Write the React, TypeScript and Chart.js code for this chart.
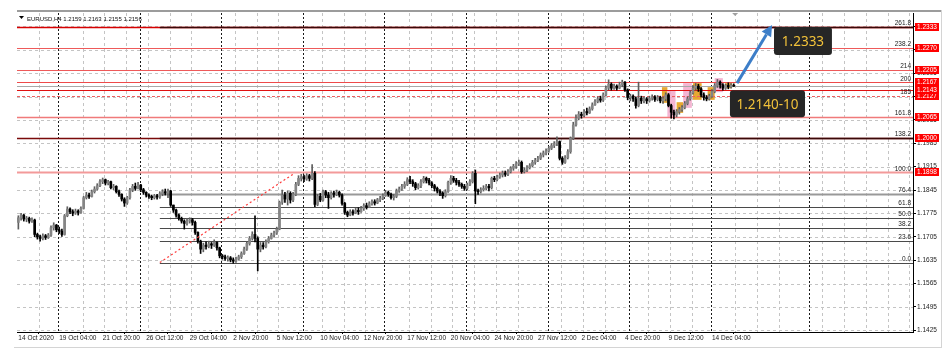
import React, { useEffect, useRef } from 'react';
import { Chart, registerables } from 'chart.js';
Chart.register(...registerables);

// ---------- data (EURUSD H4) ----------
const FIRST_OPEN = 1.1748;
const CLOSE = [
1.1762,1.1770,1.1758,1.1760,1.1752,1.1755,1.1712,1.1705,1.1700,1.1708,
1.1703,1.1710,1.1732,1.1740,1.1726,1.1722,1.1712,1.1768,1.1788,1.1780,
1.1776,1.1782,1.1778,1.1790,1.1822,1.1830,1.1826,1.1840,1.1848,1.1858,
1.1870,1.1876,1.1866,1.1870,1.1852,1.1856,1.1840,1.1832,1.1818,1.1806,
1.1822,1.1845,1.1856,1.1850,1.1860,1.1846,1.1838,1.1830,1.1826,1.1822,
1.1828,1.1824,1.1834,1.1840,1.1836,1.1842,1.1800,1.1785,1.1770,1.1760,
1.1752,1.1745,1.1752,1.1756,1.1748,1.1718,1.1692,1.1668,1.1680,1.1676,
1.1684,1.1680,1.1688,1.1672,1.1648,1.1645,1.1640,1.1642,1.1636,1.1632,
1.1638,1.1645,1.1655,1.1668,1.1685,1.1700,1.1712,1.1700,1.1668,1.1680,
1.1675,1.1690,1.1700,1.1710,1.1716,1.1728,1.1808,1.1830,1.1818,1.1835,
1.1815,1.1832,1.1862,1.1880,1.1885,1.1878,1.1888,1.1880,1.1895,1.1802,
1.1826,1.1815,1.1840,1.1830,1.1822,1.1836,1.1832,1.1838,1.1830,1.1805,
1.1778,1.1770,1.1780,1.1776,1.1784,1.1780,1.1790,1.1798,1.1794,1.1804,
1.1810,1.1806,1.1816,1.1820,1.1828,1.1838,1.1832,1.1822,1.1826,1.1842,
1.1848,1.1856,1.1862,1.1876,1.1870,1.1864,1.1852,1.1858,1.1870,1.1880,
1.1874,1.1866,1.1858,1.1850,1.1842,1.1836,1.1828,1.1840,1.1868,1.1880,
1.1874,1.1868,1.1862,1.1856,1.1850,1.1860,1.1870,1.1895,1.1842,1.1840,
1.1846,1.1850,1.1856,1.1852,1.1880,1.1876,1.1884,1.1890,1.1896,1.1892,
1.1900,1.1910,1.1916,1.1924,1.1928,1.1900,1.1904,1.1912,1.1918,1.1928,
1.1934,1.1940,1.1950,1.1956,1.1962,1.1970,1.1978,1.1984,1.1990,1.1940,
1.1928,1.1942,1.1960,1.2000,1.2040,1.2060,1.2072,1.2068,1.2080,1.2076,
1.2088,1.2100,1.2110,1.2118,1.2114,1.2130,1.2150,1.2162,1.2150,1.2156,
1.2150,1.2160,1.2168,1.2145,1.2122,1.2126,1.2118,1.2098,1.2120,1.2112,
1.2118,1.2112,1.2120,1.2124,1.2116,1.2122,1.2112,1.2118,1.2130,1.2098,
1.2078,1.2070,1.2080,1.2086,1.2092,1.2104,1.2118,1.2136,1.2150,1.2156,
1.2148,1.2130,1.2122,1.2118,1.2126,1.2140,1.2158,1.2168,1.2160,1.2150,
1.2158,1.2154,1.2159,1.2156
];
const HIGH = [
1.1768,1.1775,1.1772,1.1766,1.1764,1.1762,1.1758,1.1716,1.1710,1.1714,
1.1712,1.1715,1.1738,1.1747,1.1742,1.1734,1.1728,1.1772,1.1795,1.1792,
1.1786,1.1788,1.1786,1.1795,1.1826,1.1838,1.1836,1.1845,1.1855,1.1864,
1.1876,1.1881,1.1878,1.1874,1.1872,1.1862,1.1858,1.1845,1.1834,1.1822,
1.1826,1.1850,1.1862,1.1866,1.1868,1.1862,1.1850,1.1840,1.1834,1.1830,
1.1832,1.1832,1.1840,1.1846,1.1848,1.1848,1.1844,1.1800,1.1788,1.1774,
1.1764,1.1756,1.1760,1.1762,1.1760,1.1752,1.1720,1.1695,1.1686,1.1690,
1.1692,1.1688,1.1696,1.1690,1.1674,1.1652,1.1650,1.1648,1.1646,1.1642,
1.1644,1.1650,1.1660,1.1674,1.1690,1.1706,1.1720,1.1768,1.1705,1.1688,
1.1688,1.1696,1.1706,1.1716,1.1722,1.1734,1.1812,1.1845,1.1838,1.1842,
1.1840,1.1838,1.1868,1.1888,1.1892,1.1890,1.1894,1.1892,1.1921,1.1900,
1.1832,1.1835,1.1845,1.1844,1.1838,1.1840,1.1842,1.1845,1.1842,1.1834,
1.1808,1.1782,1.1786,1.1786,1.1790,1.1792,1.1796,1.1804,1.1806,1.1810,
1.1816,1.1816,1.1820,1.1826,1.1834,1.1844,1.1842,1.1836,1.1832,1.1848,
1.1854,1.1862,1.1870,1.1882,1.1886,1.1876,1.1868,1.1864,1.1876,1.1886,
1.1884,1.1880,1.1870,1.1862,1.1854,1.1846,1.1840,1.1846,1.1872,1.1888,
1.1886,1.1880,1.1874,1.1866,1.1862,1.1866,1.1876,1.1900,1.1905,1.1848,
1.1852,1.1858,1.1862,1.1862,1.1884,1.1886,1.1890,1.1896,1.1902,1.1902,
1.1906,1.1915,1.1922,1.1930,1.1935,1.1932,1.1912,1.1918,1.1924,1.1934,
1.1940,1.1946,1.1956,1.1962,1.1968,1.1976,1.1984,1.1990,1.2004,1.1992,
1.1945,1.1948,1.1966,1.2004,1.2048,1.2070,1.2080,1.2078,1.2086,1.2090,
1.2094,1.2106,1.2116,1.2124,1.2126,1.2136,1.2156,1.2175,1.2166,1.2162,
1.2160,1.2168,1.2174,1.2170,1.2148,1.2132,1.2130,1.2124,1.2168,1.2126,
1.2124,1.2122,1.2126,1.2130,1.2128,1.2128,1.2126,1.2124,1.2136,1.2134,
1.2102,1.2084,1.2086,1.2092,1.2098,1.2110,1.2124,1.2142,1.2158,1.2164,
1.2162,1.2152,1.2136,1.2128,1.2132,1.2146,1.2164,1.2176,1.2172,1.2164,
1.2162,1.2166,1.2164,1.2163
];
const LOW = [
1.1728,1.1755,1.1752,1.1750,1.1746,1.1748,1.1705,1.1698,1.1692,1.1696,
1.1697,1.1700,1.1706,1.1725,1.1720,1.1715,1.1706,1.1710,1.1765,1.1774,
1.1768,1.1772,1.1770,1.1775,1.1788,1.1818,1.1820,1.1824,1.1836,1.1845,
1.1855,1.1864,1.1860,1.1860,1.1848,1.1846,1.1836,1.1826,1.1812,1.1796,
1.1802,1.1818,1.1840,1.1844,1.1848,1.1840,1.1832,1.1824,1.1820,1.1816,
1.1818,1.1818,1.1820,1.1828,1.1830,1.1822,1.1796,1.1778,1.1764,1.1755,
1.1746,1.1728,1.1740,1.1746,1.1740,1.1712,1.1686,1.1655,1.1660,1.1668,
1.1672,1.1670,1.1676,1.1665,1.1642,1.1638,1.1634,1.1632,1.1630,1.1626,
1.1628,1.1635,1.1640,1.1652,1.1664,1.1680,1.1695,1.1690,1.1603,1.1660,
1.1668,1.1672,1.1686,1.1698,1.1704,1.1712,1.1726,1.1802,1.1808,1.1800,
1.1806,1.1810,1.1828,1.1858,1.1872,1.1870,1.1874,1.1872,1.1876,1.1795,
1.1798,1.1810,1.1812,1.1822,1.1790,1.1818,1.1824,1.1828,1.1824,1.1800,
1.1772,1.1765,1.1768,1.1770,1.1774,1.1772,1.1778,1.1784,1.1788,1.1792,
1.1800,1.1800,1.1804,1.1810,1.1816,1.1826,1.1826,1.1818,1.1815,1.1822,
1.1838,1.1844,1.1850,1.1858,1.1864,1.1856,1.1846,1.1848,1.1852,1.1866,
1.1866,1.1860,1.1852,1.1842,1.1836,1.1828,1.1820,1.1824,1.1838,1.1862,
1.1868,1.1860,1.1856,1.1850,1.1844,1.1846,1.1858,1.1866,1.1804,1.1832,
1.1836,1.1842,1.1846,1.1842,1.1848,1.1870,1.1872,1.1880,1.1884,1.1886,
1.1888,1.1896,1.1904,1.1910,1.1918,1.1895,1.1896,1.1900,1.1908,1.1914,
1.1922,1.1930,1.1936,1.1944,1.1950,1.1958,1.1966,1.1972,1.1978,1.1935,
1.1922,1.1925,1.1938,1.1955,1.1996,1.2036,1.2055,1.2060,1.2064,1.2070,
1.2074,1.2084,1.2098,1.2106,1.2108,1.2110,1.2126,1.2145,1.2144,1.2146,
1.2144,1.2148,1.2154,1.2140,1.2115,1.2112,1.2110,1.2090,1.2094,1.2104,
1.2106,1.2104,1.2108,1.2114,1.2110,1.2112,1.2106,1.2104,1.2112,1.2094,
1.2060,1.2058,1.2064,1.2072,1.2080,1.2088,1.2100,1.2114,1.2132,1.2144,
1.2140,1.2124,1.2114,1.2112,1.2114,1.2122,1.2136,1.2152,1.2150,1.2144,
1.2146,1.2148,1.2150,1.2155
];

const TIME_TICKS = [0, 15, 31, 47, 63, 79, 95, 111, 127, 143, 159, 175, 191, 207, 223, 239, 255];
const TIME_LABELS = ['14 Oct 2020', '19 Oct 04:00', '21 Oct 20:00', '26 Oct 12:00', '29 Oct 04:00',
  '2 Nov 20:00', '5 Nov 12:00', '10 Nov 04:00', '12 Nov 20:00', '17 Nov 12:00', '20 Nov 04:00',
  '24 Nov 20:00', '27 Nov 12:00', '2 Dec 04:00', '4 Dec 20:00', '9 Dec 12:00', '14 Dec 04:00'];
const PRICE_TICKS = [1.1425, 1.1495, 1.1565, 1.1635, 1.1705, 1.1775, 1.1845, 1.1915, 1.1985,
  1.2055, 1.2125, 1.2195, 1.2265, 1.2335];
const WEEK_SEPARATORS = [14, 44, 74, 104, 134, 164, 194, 224, 254, 290];

const LEVEL_PRICES = [1.1898, 1.2000, 1.2065, 1.2127, 1.2143, 1.2167, 1.2205, 1.2270, 1.2333];
const LEVEL_LABELS = ['1.1898', '1.2000', '1.2065', '1.2127', '1.2143', '1.2167', '1.2205', '1.2270', '1.2333'];
const LEVEL_COLORS = ['#f39a9a', '#7a0a0a', '#f07a7a', '#ee6060', '#e01010', '#ee4a4a', '#ee5a5a', '#ee5a5a', '#d80000'];
const LEVEL_WIDTHS = [2, 1.5, 1.5, 1, 1, 1, 1, 1, 1.5];
const LEVEL_DASHED = [false, false, false, true, false, false, false, false, false];

const FIB_LOW = 1.1628;
const FIB_HIGH = 1.18975;
const FIB_START = 52;
const FIB_END = 101;
const FIB_RATIOS = [0, 23.6, 38.2, 50, 61.8, 76.4, 100, 138.2, 161.8, 185, 200, 214, 238.2, 261.8];
const FIB_TEXT = ['0.0', '23.6', '38.2', '50.0', '61.8', '76.4', '100.0', '138.2', '161.8', '185', '200', '214', '238.2', '261.8'];
const BID_PRICE = 1.2156;

const ZONE_FROM = [236.6, 238.6, 242.0, 244.4, 248.0, 253.4, 256.0, 259.8];
const ZONE_TO = [238.6, 241.6, 244.4, 247.6, 251.2, 256.0, 259.0, 262.4];
const ZONE_HIGH = [1.2153, 1.2144, 1.2108, 1.2165, 1.2165, 1.2153, 1.2180, 1.2165];
const ZONE_LOW = [1.2106, 1.2064, 1.2076, 1.2091, 1.2115, 1.2115, 1.2138, 1.2150];
const ZONE_KIND = ['o', 'p', 'o', 'p', 'o', 'o', 'p', 'o'];

const ARROW_X = [264.2, 277.1];
const ARROW_Y = [1.2165, 1.2339];
const CALLOUT_TEXT = ['1.2333', '1.2140-10'];
const CALLOUT_FROM = [277.8, 261.6];
const CALLOUT_TO = [299.1, 289.2];
const CALLOUT_TOP = [1.2333, 1.2144];
const CALLOUT_BOTTOM = [1.2249, 1.2063];

const HEADER = 'EURUSD,H4 1.2159 1.2163 1.2155 1.2156';
const FONT = "'Liberation Sans', Arial, sans-serif";

export default function App() {
  const ref = useRef<HTMLCanvasElement>(null);

  useEffect(() => {
    const canvas = ref.current!;
    const OPEN = CLOSE.map((c, i) => (i === 0 ? FIRST_OPEN : CLOSE[i - 1]));
    const idx = CLOSE.map((_, i) => i);
    const up = idx.map(i => CLOSE[i] >= OPEN[i]);
    const wickData = idx.map(i => ({ x: i, y: [Math.min(LOW[i], OPEN[i], CLOSE[i]), Math.max(HIGH[i], OPEN[i], CLOSE[i])] }));
    const bodyData = idx.map(i => ({ x: i, y: [OPEN[i], CLOSE[i]] }));
    const fibPrice = (r: number) => FIB_LOW + (r / 100) * (FIB_HIGH - FIB_LOW);

    const line = (ctx: CanvasRenderingContext2D, x0: number, y0: number, x1: number, y1: number) => {
      ctx.beginPath(); ctx.moveTo(x0, y0); ctx.lineTo(x1, y1); ctx.stroke();
    };

    const overlay = {
      id: 'mt4overlay',
      beforeDatasetsDraw(chart: any) {
        const { ctx, chartArea: a, scales } = chart;
        const x = scales.x, y = scales.y;
        ctx.save();
        ctx.beginPath(); ctx.rect(a.left, a.top, a.right - a.left, a.bottom - a.top); ctx.clip();
        ctx.lineWidth = 1; ctx.strokeStyle = '#c4c4c4'; ctx.setLineDash([3, 3]);
        PRICE_TICKS.forEach(p => { const py = Math.round(y.getPixelForValue(p)) + 0.5; line(ctx, a.left, py, a.right, py); });
        for (let g = 7.6; g < x.max; g += 8) {
          if (WEEK_SEPARATORS.some(w => Math.abs(w - g) < 3.5)) continue;
          const px = Math.round(x.getPixelForValue(g)) + 0.5; line(ctx, px, a.top, px, a.bottom);
        }
        ctx.strokeStyle = '#1a1a1a'; ctx.setLineDash([2, 2]);
        WEEK_SEPARATORS.forEach(w => { const px = Math.round(x.getPixelForValue(w + 0.6)) + 0.5; line(ctx, px, a.top, px, a.bottom); });
        ctx.setLineDash([]);
        ZONE_FROM.forEach((f, k) => {
          const x0 = x.getPixelForValue(f), x1 = x.getPixelForValue(ZONE_TO[k]);
          const y0 = y.getPixelForValue(ZONE_HIGH[k]), y1 = y.getPixelForValue(ZONE_LOW[k]);
          ctx.fillStyle = ZONE_KIND[k] === 'o' ? 'rgba(228,158,28,0.9)' : 'rgba(242,168,202,0.85)';
          ctx.fillRect(x0, y0, x1 - x0, y1 - y0);
        });
        ctx.strokeStyle = '#a8a8a8'; ctx.lineWidth = 1;
        const by = Math.round(y.getPixelForValue(BID_PRICE)) + 0.5; line(ctx, a.left, by, a.right, by);
        LEVEL_PRICES.forEach((p, k) => {
          ctx.strokeStyle = LEVEL_COLORS[k]; ctx.lineWidth = LEVEL_WIDTHS[k];
          ctx.setLineDash(LEVEL_DASHED[k] ? [3, 2] : []);
          const py = Math.round(y.getPixelForValue(p)) + 0.5; line(ctx, a.left, py, a.right, py);
        });
        ctx.setLineDash([]);
        const fx = x.getPixelForValue(FIB_START);
        FIB_RATIOS.forEach(r => {
          let col = '', w = 1;
          if (r <= 76.4) { col = r === 76.4 ? '#999999' : '#4a4a4a'; w = r === 76.4 ? 2 : 1.2; }
          else if (r === 138.2 || r === 261.8) { col = '#3a0808'; w = 1.4; }
          if (!col) return;
          ctx.strokeStyle = col; ctx.lineWidth = w;
          const py = Math.round(y.getPixelForValue(fibPrice(r))) + 0.5; line(ctx, fx, py, a.right, py);
        });
        ctx.restore();
      },
      afterDraw(chart: any) {
        const { ctx, chartArea: a, scales } = chart;
        const x = scales.x, y = scales.y;
        ctx.save();
        ctx.strokeStyle = '#ff3a3a'; ctx.lineWidth = 1.2; ctx.setLineDash([2, 2.5]);
        line(ctx, x.getPixelForValue(FIB_START), y.getPixelForValue(FIB_LOW), x.getPixelForValue(FIB_END), y.getPixelForValue(FIB_HIGH - 0.0005));
        ctx.setLineDash([]);
        ctx.font = `6.5px ${FONT}`; ctx.fillStyle = '#222'; ctx.textAlign = 'right'; ctx.textBaseline = 'bottom';
        FIB_RATIOS.forEach((r, k) => { ctx.fillText(FIB_TEXT[k], a.right - 2, y.getPixelForValue(fibPrice(r)) - 0.5); });
        const x0 = x.getPixelForValue(ARROW_X[0]), y0 = y.getPixelForValue(ARROW_Y[0]);
        const x1 = x.getPixelForValue(ARROW_X[1]), y1 = y.getPixelForValue(ARROW_Y[1]);
        const ang = Math.atan2(y1 - y0, x1 - x0);
        const hl = 11, hw = 5.5;
        const bx = x1 - hl * Math.cos(ang), byy = y1 - hl * Math.sin(ang);
        ctx.strokeStyle = '#3d7ec8'; ctx.fillStyle = '#3d7ec8'; ctx.lineWidth = 3;
        line(ctx, x0, y0, bx, byy);
        ctx.beginPath(); ctx.moveTo(x1, y1);
        ctx.lineTo(bx + hw * Math.sin(ang), byy - hw * Math.cos(ang));
        ctx.lineTo(bx - hw * Math.sin(ang), byy + hw * Math.cos(ang));
        ctx.closePath(); ctx.fill();
        CALLOUT_TEXT.forEach((t, k) => {
          const l = x.getPixelForValue(CALLOUT_FROM[k]), r = x.getPixelForValue(CALLOUT_TO[k]);
          const tp = y.getPixelForValue(CALLOUT_TOP[k]), bt = y.getPixelForValue(CALLOUT_BOTTOM[k]);
          ctx.fillStyle = '#262626';
          ctx.beginPath();
          if ((ctx as any).roundRect) (ctx as any).roundRect(l, tp, r - l, bt - tp, 3); else ctx.rect(l, tp, r - l, bt - tp);
          ctx.fill();
          ctx.fillStyle = '#f2c23a'; ctx.font = "13.5px 'Noto Sans', 'Open Sans', sans-serif";
          ctx.textAlign = 'center'; ctx.textBaseline = 'middle';
          ctx.fillText(t, (l + r) / 2, (tp + bt) / 2 + 1);
        });
        ctx.font = `6.5px ${FONT}`; ctx.textAlign = 'left'; ctx.textBaseline = 'middle';
        LEVEL_PRICES.forEach((p, k) => {
          const py = Math.round(y.getPixelForValue(p));
          ctx.fillStyle = '#ff0000'; ctx.fillRect(a.right + 2, py - 4, 24, 8);
          ctx.fillStyle = '#ffffff'; ctx.fillText(LEVEL_LABELS[k], a.right + 4, py + 0.5);
        });
        ctx.fillStyle = '#000';
        ctx.beginPath(); ctx.moveTo(19, 16); ctx.lineTo(24, 16); ctx.lineTo(21.5, 19); ctx.closePath(); ctx.fill();
        ctx.font = `6px ${FONT}`; ctx.textAlign = 'left'; ctx.textBaseline = 'alphabetic'; ctx.fillStyle = '#111';
        ctx.fillText(HEADER, 27, 20.5);
        const sx = x.getPixelForValue(CLOSE.length - 0.5);
        ctx.fillStyle = '#a0a0a0';
        ctx.beginPath(); ctx.moveTo(sx - 3, a.top); ctx.lineTo(sx + 3, a.top); ctx.lineTo(sx, a.top + 3); ctx.closePath(); ctx.fill();
        ctx.fillStyle = '#9c9c9c'; ctx.fillRect(a.left, 10, 942 - a.left, 2);
        ctx.fillStyle = '#d4d4d4'; ctx.fillRect(941, 10, 1, 338); ctx.fillRect(14, 347, 928, 1);
        ctx.restore();
      },
    };

    const chart = new Chart(canvas, {
      type: 'bar',
      data: {
        datasets: [
          { data: wickData as any, backgroundColor: up.map(u => (u ? '#5e5e5e' : '#000000')), barThickness: 1, grouped: false, order: 2, borderWidth: 0 } as any,
          { data: bodyData as any, backgroundColor: up.map(u => (u ? '#858585' : '#000000')), barThickness: 2, minBarLength: 1, grouped: false, order: 1, borderWidth: 0 } as any,
        ],
      },
      options: {
        responsive: false,
        animation: false,
        devicePixelRatio: 1,
        layout: { padding: { left: 17, top: 13, right: 10, bottom: 8 } },
        plugins: { legend: { display: false }, tooltip: { enabled: false } },
        scales: {
          x: {
            type: 'linear', min: -0.5, max: 328.9, offset: false,
            afterBuildTicks: (s: any) => { s.ticks = TIME_TICKS.map(v => ({ value: v })); },
            afterFit: (s: any) => { s.height = 12; },
            ticks: {
              autoSkip: false, maxRotation: 0, minRotation: 0, align: 'start', padding: 0,
              font: { family: FONT, size: 6.5 }, color: '#222',
              callback: (v: any) => { const k = TIME_TICKS.indexOf(Number(v)); return k >= 0 ? TIME_LABELS[k] : ''; },
            },
            grid: { display: true, drawOnChartArea: false, drawTicks: true, tickLength: 2, color: '#000' },
            border: { display: true, color: '#000', width: 1 },
          },
          y: {
            type: 'linear', position: 'right', min: 1.1420, max: 1.2375,
            afterBuildTicks: (s: any) => { s.ticks = PRICE_TICKS.map(v => ({ value: v })); },
            afterFit: (s: any) => { s.width = 27; },
            ticks: {
              autoSkip: false, padding: 1, font: { family: FONT, size: 6.5 }, color: '#222',
              callback: (v: any) => Number(v).toFixed(4),
            },
            grid: { display: true, drawOnChartArea: false, drawTicks: true, tickLength: 3, color: '#000' },
            border: { display: true, color: '#000', width: 1 },
          },
        },
      } as any,
      plugins: [overlay],
    });
    return () => chart.destroy();
  }, []);

  return (
    <div style={{ position: 'fixed', left: 0, top: 0, width: 950, height: 352, background: '#ffffff' }}>
      <canvas ref={ref} width={950} height={352} style={{ display: 'block', width: 950, height: 352 }} />
    </div>
  );
}
